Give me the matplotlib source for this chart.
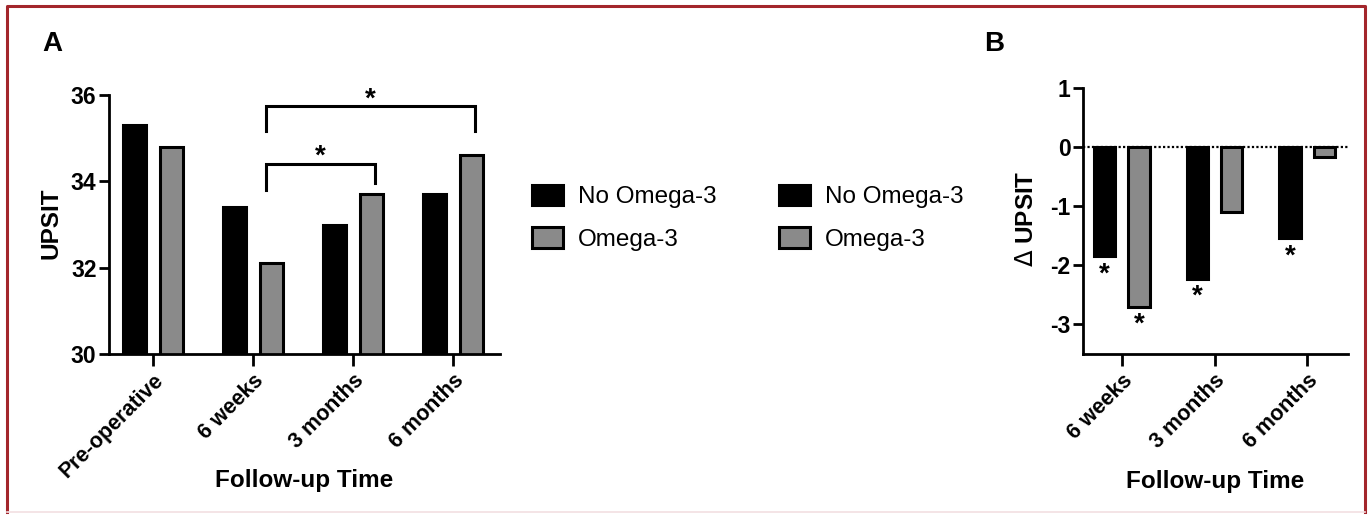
import matplotlib
matplotlib.use("Agg")
import matplotlib.pyplot as plt
import numpy as np
from matplotlib.lines import Line2D

plt.rcParams['font.family'] = ['Liberation Sans', 'DejaVu Sans']

# panel A: UPSIT score at each visit
times_a = ["Pre-operative", "6 weeks", "3 months", "6 months"]
no_omega_a = [35.3, 33.4, 33.0, 33.7]
omega_a = [34.8, 32.1, 33.7, 34.6]

# panel B: change from pre-operative UPSIT
times_b = ["6 weeks", "3 months", "6 months"]
no_omega_b = [-1.85, -2.23, -1.54]
omega_b = [-2.70, -1.09, -0.17]
stars_no_b = [True, True, True]
stars_omega_b = [True, False, False]

BLACK = "#000000"
GRAY = "#8a8a8a"
W = 0.23
OFF = 0.185

fig = plt.figure(figsize=(13.68, 5.15), dpi=100)
axA = fig.add_axes([109/1368, 1-354/515, 391/1368, 259/515])
axB = fig.add_axes([1083/1368, 1-354/515, 265/1368, 266/515])


def style_axis(ax):
    for s in ["top", "right"]:
        ax.spines[s].set_visible(False)
    for s in ["left", "bottom"]:
        ax.spines[s].set_linewidth(2.0)
    ax.tick_params(axis="y", direction="out", length=7, width=2, labelsize=16.5, pad=2)
    ax.tick_params(axis="x", direction="out", length=8.5, width=2, labelsize=15.5, pad=3)
    for lab in ax.get_yticklabels() + ax.get_xticklabels():
        lab.set_fontweight("bold")


# ---- panel A
xa = np.arange(len(times_a))
bA1 = axA.bar(xa - OFF, no_omega_a, W, color=BLACK, edgecolor=BLACK, linewidth=2.2)
bA2 = axA.bar(xa + OFF, omega_a, W, color=GRAY, edgecolor=BLACK, linewidth=2.2)
axA.set_ylim(30, 36)
axA.set_xlim(-0.44, 3.47)
axA.set_yticks([30, 32, 34, 36])
axA.set_xticks(xa)
axA.set_xticklabels(times_a, rotation=45, ha="right", rotation_mode="anchor")
style_axis(axA)
axA.set_ylabel("UPSIT", fontsize=17.5, fontweight="bold")
axA.yaxis.set_label_coords(-0.12, 0.506)
axA.set_xlabel("Follow-up Time", fontsize=17.5, fontweight="bold")
axA.xaxis.set_label_coords(0.5, -0.445)

# significance brackets
def bracket(ax, x1, x2, y, y1, y2):
    ax.plot([x1, x1, x2, x2], [y1, y, y, y2], color=BLACK, lw=2.2,
            clip_on=False, solid_joinstyle="miter")
    ax.text((x1 + x2) / 2, y, "*", ha="center", va="baseline",
            fontsize=20, fontweight="bold", clip_on=False)

bracket(axA, 1.13, 3.22, 35.74, 35.16, 35.16)
bracket(axA, 1.13, 2.22, 34.40, 33.79, 33.95)

# ---- panel B
xb = np.arange(len(times_b))
bB1 = axB.bar(xb - OFF, no_omega_b, W, color=BLACK, edgecolor=BLACK, linewidth=2.2)
bB2 = axB.bar(xb + OFF, omega_b, W, color=GRAY, edgecolor=BLACK, linewidth=2.2)
axB.axhline(0, color=BLACK, lw=1.6, ls=(0, (1, 1)))
axB.set_ylim(-3.5, 1)
axB.set_xlim(-0.42, 2.44)
axB.set_yticks([-3, -2, -1, 0, 1])
axB.set_yticklabels(["-3", "-2", "-1", "0", "1"])
axB.set_xticks(xb)
axB.set_xticklabels(times_b, rotation=45, ha="right", rotation_mode="anchor")
style_axis(axB)
axB.set_ylabel(r"$\Delta$ UPSIT", fontsize=17.5, fontweight="bold")
axB.yaxis.set_label_coords(-0.17, 0.508)
axB.set_xlabel("Follow-up Time", fontsize=17.5, fontweight="bold")
axB.xaxis.set_label_coords(0.5, -0.435)

for xs, vals, flags in [(xb - OFF, no_omega_b, stars_no_b), (xb + OFF, omega_b, stars_omega_b)]:
    for x, v, f in zip(xs, vals, flags):
        if f:
            axB.annotate("*", xy=(x, v), xytext=(0, -18), textcoords="offset points",
                         ha="center", va="baseline", fontsize=20, fontweight="bold")

# legends
leg_kw = dict(frameon=False, fontsize=17.5, handlelength=1.27, handleheight=0.9,
              handletextpad=0.62, labelspacing=0.78, borderpad=0, borderaxespad=0,
              loc="upper left")
fig.legend([bA1, bA2], ["No Omega-3", "Omega-3"],
           bbox_to_anchor=(532/1368, 1-185/515), **leg_kw)
fig.legend([bB1, bB2], ["No Omega-3", "Omega-3"],
           bbox_to_anchor=(779/1368, 1-185/515), **leg_kw)

# panel letters
fig.text(42/1368, 1-51/515, "A", fontsize=20, fontweight="bold", va="baseline")
fig.text(984/1368, 1-51/515, "B", fontsize=20, fontweight="bold", va="baseline")

# frame
RED = "#a3262c"
fig.add_artist(Line2D([7/1368, 7/1368, 1365/1368, 1365/1368],
                      [1-512/515, 1-6/515, 1-6/515, 1-512/515],
                      transform=fig.transFigure, color=RED, lw=2.2))
fig.add_artist(Line2D([7/1368, 1365/1368], [1-512/515, 1-512/515],
                      transform=fig.transFigure, color="#f2dfe2", lw=1.2))

fig.savefig("out.png", dpi=100)
